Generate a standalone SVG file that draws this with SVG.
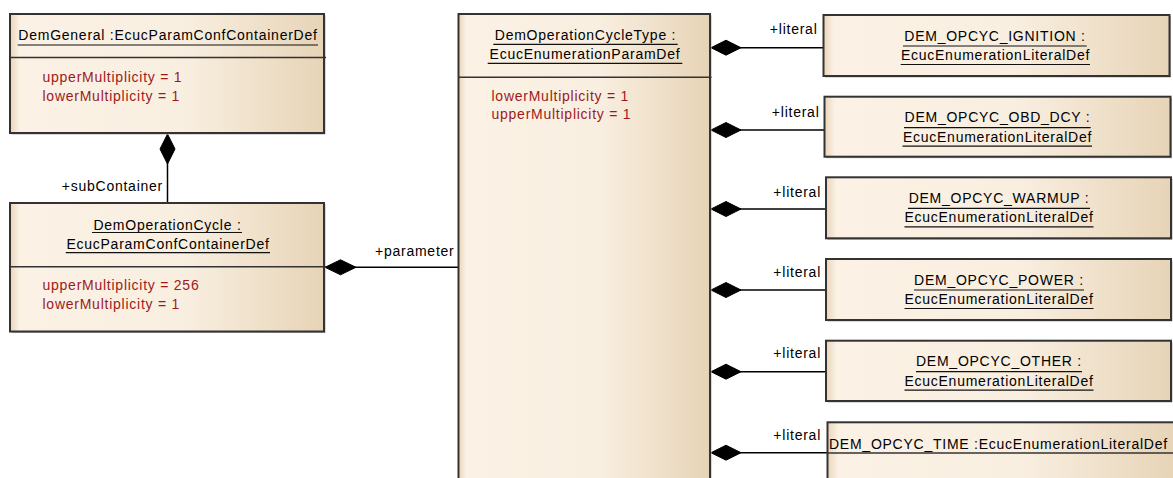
<svg xmlns="http://www.w3.org/2000/svg" width="1173" height="478" viewBox="0 0 1173 478">
<defs>
<linearGradient id="fill" x1="0" y1="0" x2="1" y2="0">
<stop offset="0" stop-color="#EAD5BB"/>
<stop offset="0.016" stop-color="#F3E4D0"/>
<stop offset="0.03" stop-color="#FBF1E4"/>
<stop offset="0.55" stop-color="#F9EFE1"/>
<stop offset="1" stop-color="#E7D4B7"/>
</linearGradient>
<style>
.box{fill:url(#fill);stroke:#333;stroke-width:2}
.shadow{fill:#b4b4b4}
.sep{stroke:#333;stroke-width:1.5}
.ul{stroke:#111;stroke-width:1.2}
text{font-family:"Liberation Sans",Arial,sans-serif;font-size:14px;letter-spacing:0.75px;fill:#000}
.attr{fill:#9E1A1A}
.mid{text-anchor:middle}
.end{text-anchor:end}
.conn{stroke:#000;stroke-width:1.5;fill:none}
.dia{fill:#000;stroke:#000;stroke-width:1}
</style>
</defs>

<g id="connectors">
<line class="conn" x1="167.5" y1="160" x2="167.5" y2="203"/>
<polygon class="dia" points="167.5,134 175,149 167.5,164 160,149"/>
<text class="end" x="163" y="191">+subContainer</text>

<line class="conn" x1="354" y1="267.3" x2="458.5" y2="267.3"/>
<polygon class="dia" points="325,267.3 340.5,259.8 356,267.3 340.5,274.8"/>
<text x="375" y="255.5">+parameter</text>

<line class="conn" x1="739" y1="47.7" x2="823.5" y2="47.7"/>
<polygon class="dia" points="711,47.7 726,40.2 741,47.7 726,55.2"/>
<text class="end" x="817.5" y="34.3">+literal</text>

<line class="conn" x1="739" y1="130" x2="824.5" y2="130"/>
<polygon class="dia" points="711,130 726,122.5 741,130 726,137.5"/>
<text class="end" x="819.5" y="116.7">+literal</text>

<line class="conn" x1="739" y1="209" x2="826" y2="209"/>
<polygon class="dia" points="711,209 726,201.5 741,209 726,216.5"/>
<text class="end" x="821" y="196.7">+literal</text>

<line class="conn" x1="739" y1="290" x2="826" y2="290"/>
<polygon class="dia" points="711,290 726,282.5 741,290 726,297.5"/>
<text class="end" x="821" y="277.3">+literal</text>

<line class="conn" x1="739" y1="371.7" x2="826" y2="371.7"/>
<polygon class="dia" points="711,371.7 726,364.2 741,371.7 726,379.2"/>
<text class="end" x="821" y="358.3">+literal</text>

<line class="conn" x1="739" y1="452.7" x2="827.5" y2="452.7"/>
<polygon class="dia" points="711,452.7 726,445.2 741,452.7 726,460.2"/>
<text class="end" x="821" y="440">+literal</text>
</g>

<g id="DemGeneral">
<rect class="shadow" x="11.5" y="15.5" width="314" height="119"/>
<rect class="box" x="10" y="14" width="314" height="119"/>
<text class="mid" x="168" y="40">DemGeneral :EcucParamConfContainerDef</text>
<line class="ul" x1="17.7" y1="45" x2="318" y2="45"/>
<line class="sep" x1="10" y1="57.5" x2="326" y2="57.5"/>
<text class="attr" x="42.5" y="81.5">upperMultiplicity = 1</text>
<text class="attr" x="42.5" y="100.7">lowerMultiplicity = 1</text>
</g>

<g id="DemOperationCycle">
<rect class="shadow" x="11.5" y="204.5" width="314" height="128.5"/>
<rect class="box" x="10" y="203" width="314" height="128.5"/>
<text class="mid" x="167.5" y="230">DemOperationCycle :</text>
<line class="ul" x1="92" y1="232.5" x2="242" y2="232.5"/>
<text class="mid" x="168" y="249.3">EcucParamConfContainerDef</text>
<line class="ul" x1="65.7" y1="252.7" x2="270" y2="252.7"/>
<line class="sep" x1="10" y1="266.7" x2="326" y2="266.7"/>
<text class="attr" x="42.5" y="290">upperMultiplicity = 256</text>
<text class="attr" x="42.5" y="309">lowerMultiplicity = 1</text>
</g>

<g id="DemOperationCycleType">
<rect class="shadow" x="460" y="15.5" width="251.5" height="480"/>
<rect class="box" x="458.5" y="14" width="251.5" height="480"/>
<text class="mid" x="585.5" y="40">DemOperationCycleType :</text>
<line class="ul" x1="493.3" y1="44.3" x2="677.7" y2="44.3"/>
<text class="mid" x="585" y="59">EcucEnumerationParamDef</text>
<line class="ul" x1="487.7" y1="63.3" x2="682.3" y2="63.3"/>
<line class="sep" x1="458.5" y1="77.3" x2="711.5" y2="77.3"/>
<text class="attr" x="491.5" y="100.7">lowerMultiplicity = 1</text>
<text class="attr" x="491.5" y="119.3">upperMultiplicity = 1</text>
</g>

<g id="DEM_OPCYC_IGNITION">
<rect class="shadow" x="825" y="16.5" width="346" height="61"/>
<rect class="box" x="823.5" y="15" width="346" height="61"/>
<text class="mid" x="995" y="40.5">DEM_OPCYC_IGNITION :</text>
<line class="ul" x1="903" y1="46" x2="1086.7" y2="46"/>
<text class="mid" x="995.5" y="60">EcucEnumerationLiteralDef</text>
<line class="ul" x1="900.7" y1="64.5" x2="1090" y2="64.5"/>
</g>

<g id="DEM_OPCYC_OBD_DCY">
<rect class="shadow" x="826" y="98.2" width="346" height="60"/>
<rect class="box" x="824.5" y="96.7" width="346" height="60"/>
<text class="mid" x="997.5" y="122.2">DEM_OPCYC_OBD_DCY :</text>
<line class="ul" x1="904" y1="127.7" x2="1090.7" y2="127.7"/>
<text class="mid" x="997.5" y="141.7">EcucEnumerationLiteralDef</text>
<line class="ul" x1="902.5" y1="146.2" x2="1092" y2="146.2"/>
</g>

<g id="DEM_OPCYC_WARMUP">
<rect class="shadow" x="827.5" y="178.8" width="345" height="61"/>
<rect class="box" x="826" y="177.3" width="345" height="61"/>
<text class="mid" x="999" y="202.8">DEM_OPCYC_WARMUP :</text>
<line class="ul" x1="908" y1="208.3" x2="1090" y2="208.3"/>
<text class="mid" x="999" y="222.3">EcucEnumerationLiteralDef</text>
<line class="ul" x1="904.5" y1="226.8" x2="1093.5" y2="226.8"/>
</g>

<g id="DEM_OPCYC_POWER">
<rect class="shadow" x="827.5" y="260.5" width="345" height="61"/>
<rect class="box" x="826" y="259" width="345" height="61"/>
<text class="mid" x="999" y="284.5">DEM_OPCYC_POWER :</text>
<line class="ul" x1="914" y1="290" x2="1084" y2="290"/>
<text class="mid" x="999" y="304">EcucEnumerationLiteralDef</text>
<line class="ul" x1="904.5" y1="308.5" x2="1093.5" y2="308.5"/>
</g>

<g id="DEM_OPCYC_OTHER">
<rect class="shadow" x="827.5" y="342.2" width="345" height="60.3"/>
<rect class="box" x="826" y="340.7" width="345" height="60.3"/>
<text class="mid" x="999" y="366.2">DEM_OPCYC_OTHER :</text>
<line class="ul" x1="916" y1="371.7" x2="1082" y2="371.7"/>
<text class="mid" x="999" y="385.7">EcucEnumerationLiteralDef</text>
<line class="ul" x1="904.5" y1="390.2" x2="1093.5" y2="390.2"/>
</g>

<g id="DEM_OPCYC_TIME">
<rect class="shadow" x="829" y="423.8" width="350" height="70"/>
<rect class="box" x="827.5" y="422.3" width="350" height="70"/>
<text x="829" y="448.5">DEM_OPCYC_TIME :EcucEnumerationLiteralDef</text>
<line class="sep" x1="827.5" y1="453" x2="1173" y2="453"/>
</g>
</svg>
